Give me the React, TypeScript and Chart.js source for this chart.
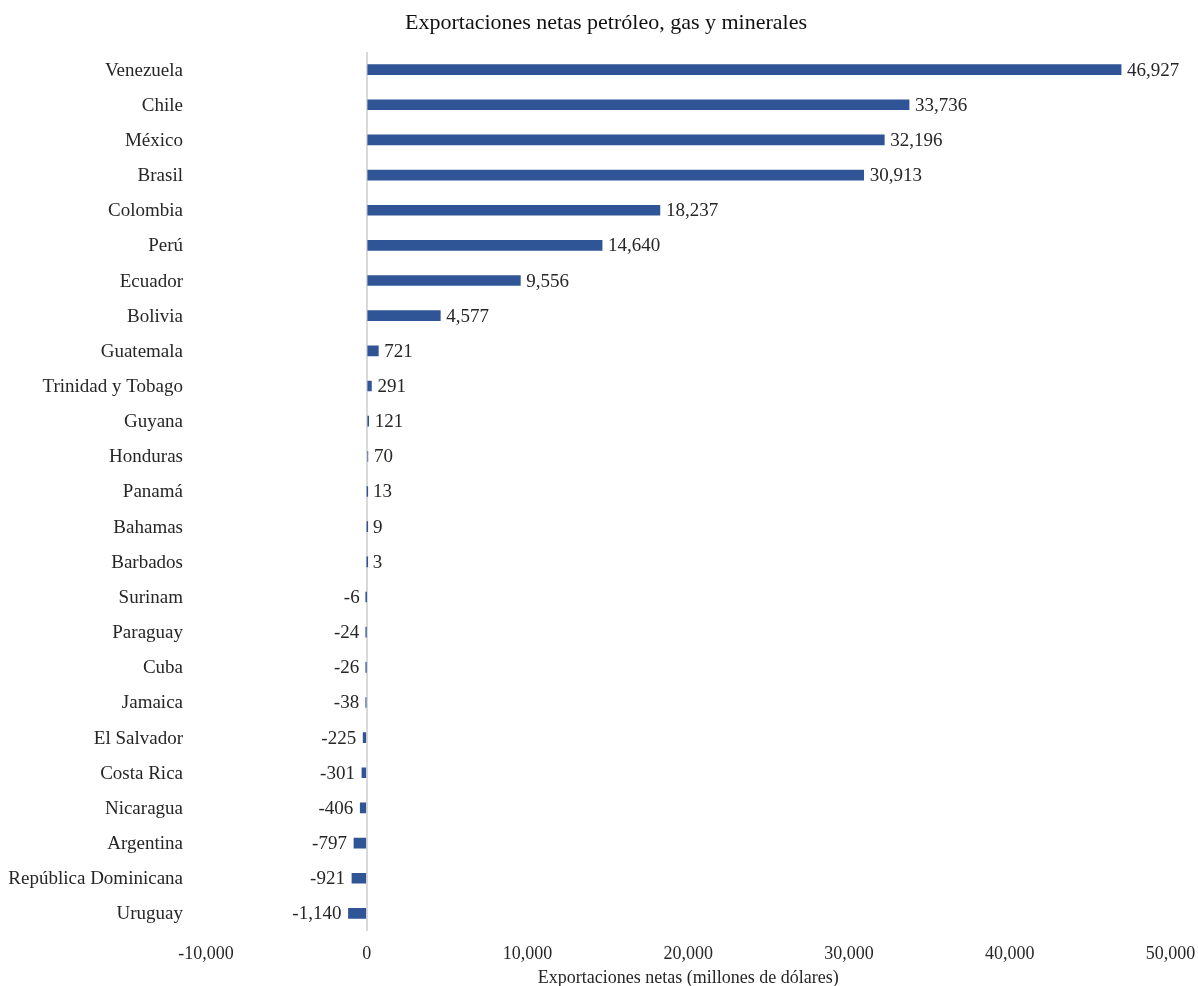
import React, { useEffect, useRef } from "react";
import { Chart, registerables } from "chart.js";

Chart.register(...registerables);

const categories = [
  "Venezuela", "Chile", "México", "Brasil", "Colombia", "Perú", "Ecuador", "Bolivia",
  "Guatemala", "Trinidad y Tobago", "Guyana", "Honduras", "Panamá", "Bahamas", "Barbados",
  "Surinam", "Paraguay", "Cuba", "Jamaica", "El Salvador", "Costa Rica", "Nicaragua",
  "Argentina", "República Dominicana", "Uruguay",
];

const values = [
  46927, 33736, 32196, 30913, 18237, 14640, 9556, 4577,
  721, 291, 121, 70, 13, 9, 3,
  -6, -24, -26, -38, -225, -301, -406,
  -797, -921, -1140,
];

const xMin = -10000;
const xMax = 50000;
const xStep = 10000;

const titleText = "Exportaciones netas petróleo, gas y minerales";
const xAxisTitle = "Exportaciones netas (millones de dólares)";

const FONT = "'Liberation Serif', 'Times New Roman', serif";
const fmt = (v: number) => v.toLocaleString("en-US");

const labelPlugin = {
  id: "barLabels",
  afterDatasetsDraw(chart: any) {
    const ctx = chart.ctx;
    const meta = chart.getDatasetMeta(0);
    ctx.save();
    ctx.font = `19px ${FONT}`;
    ctx.fillStyle = "#262626";
    ctx.textBaseline = "middle";
    meta.data.forEach((el: any, i: number) => {
      const v = values[i];
      if (v >= 0) {
        ctx.textAlign = "left";
        ctx.fillText(fmt(v), el.x + 6, el.y + 1);
      } else {
        ctx.textAlign = "right";
        ctx.fillText(fmt(v), el.x - 7, el.y + 1);
      }
    });
    // chart title
    ctx.font = `22px ${FONT}`;
    ctx.fillStyle = "#111";
    ctx.textAlign = "center";
    ctx.textBaseline = "middle";
    ctx.fillText(titleText, 606, 23);
    ctx.restore();
  },
};

export default function App() {
  const ref = useRef<HTMLCanvasElement>(null);
  useEffect(() => {
    if (!ref.current) return;
    const chart = new Chart(ref.current, {
      type: "bar",
      data: {
        labels: categories,
        datasets: [
          {
            data: values,
            backgroundColor: "#2F5597",
            barThickness: 10,
          },
        ],
      },
      options: {
        indexAxis: "y",
        animation: false,
        responsive: true,
        maintainAspectRatio: false,
        layout: { padding: { left: 0, right: 27.5, top: 52, bottom: 0 } },
        plugins: {
          legend: { display: false },
          tooltip: { enabled: false },
          title: { display: false },
        },
        scales: {
          x: {
            type: "linear",
            min: xMin,
            max: xMax,
            ticks: {
              stepSize: xStep,
              color: "#262626",
              font: { family: FONT, size: 18 },
              padding: 12,
              callback: (v: any) => fmt(Number(v)),
              maxRotation: 0,
            },
            grid: {
              drawTicks: false,
              lineWidth: 2,
              color: (c: any) => (c.tick && c.tick.value === 0 ? "#d9d9d9" : "rgba(0,0,0,0)"),
            },
            border: { display: false },
            title: {
              display: true,
              text: xAxisTitle,
              color: "#262626",
              font: { family: FONT, size: 18 },
              padding: { top: 3, bottom: -3 },
            },
            afterFit: (s: any) => {
              s.height = 55;
              s.paddingRight = 0;
              s.paddingLeft = 0;
            },
          },
          y: {
            ticks: {
              color: "#262626",
              font: { family: FONT, size: 19 },
              padding: 23,
              autoSkip: false,
              labelOffset: 1,
            },
            grid: { display: false, drawTicks: false },
            border: { display: false },
            afterFit: (s: any) => {
              s.width = 206;
            },
          },
        },
      },
      plugins: [labelPlugin],
    });
    return () => chart.destroy();
  }, []);
  return (
    <div style={{ position: "fixed", left: 0, top: 0, width: 1198, height: 986, background: "#fff" }}>
      <canvas ref={ref} />
    </div>
  );
}
